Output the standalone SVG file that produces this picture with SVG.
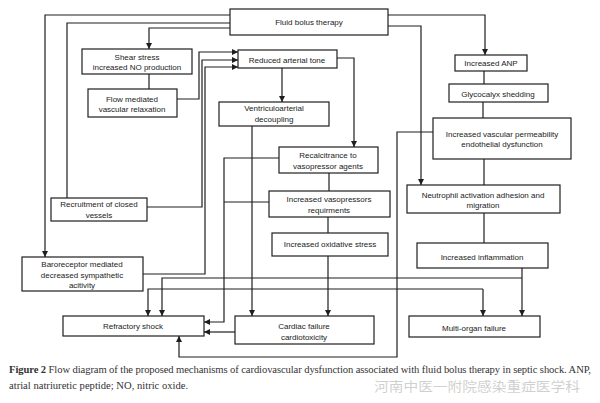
<svg xmlns="http://www.w3.org/2000/svg" width="600" height="403" viewBox="0 0 600 403">
<style>
.box{fill:#fff;stroke:#1e1e1e;stroke-width:1.2}
.t{font-family:"Liberation Sans",Arial,sans-serif;font-size:8px;fill:#222;text-anchor:middle}
.c{fill:none;stroke:#1e1e1e;stroke-width:1.2}
.a{marker-end:url(#ah)}
.cap{font-family:"Liberation Serif","Times New Roman",serif;font-size:10.6px;fill:#333}
.wm{font-family:"Noto Sans CJK SC",sans-serif;font-size:13px;fill:#bbb;fill-opacity:0.7}
</style>
<defs>
<marker id="ah" markerUnits="userSpaceOnUse" markerWidth="6" markerHeight="6" refX="6" refY="3" orient="auto">
<path d="M0,0 L6,3 L0,6 z" fill="#1e1e1e"/>
</marker>
</defs>
<rect width="600" height="403" fill="#fff"/>
<g id="connectors">
<path class="c a" d="M230,15 H45 V257"/>
<path class="c" d="M230,23 H67 V198"/>
<path class="c a" d="M230,28 H149 V49"/>
<path class="c a" d="M388,15 H485 V55"/>
<path class="c a" d="M388,26 H421 V185"/>
<path class="c" d="M149,74 V89"/>
<path class="c a" d="M177,99 H199 V52 H238"/>
<path class="c a" d="M147,207 H202 V60 H238"/>
<path class="c a" d="M143,274 H205 V67 H238"/>
<path class="c a" d="M282,68 V102"/>
<path class="c a" d="M337,58 H354 V147"/>
<path class="c a" d="M252,126 V316"/>
<path class="c a" d="M279,158 H224 V322 H204"/>
<path class="c" d="M269,202 H224"/>
<path class="c" d="M329,173 V191"/>
<path class="c" d="M328,217 V233"/>
<path class="c a" d="M328,256 V316"/>
<path class="c a" d="M235,332 H204"/>
<path class="c" d="M484,71 V84"/>
<path class="c" d="M483,102 V118"/>
<path class="c" d="M484,159 V185"/>
<path class="c" d="M484,213 V243"/>
<path class="c a" d="M522,268 V316"/>
<path class="c a" d="M522,278 H162 V316"/>
<path class="c a" d="M483,289 H148 V316"/>
<path class="c a" d="M483,289 V316"/>
<path class="c a" d="M433,132 H397 V357 H179 V336"/>
</g>
<g id="n_fluid"><rect class="box" x="230" y="9" width="158" height="26"/><text class="t" x="309" y="25">Fluid bolus therapy</text></g>
<g id="n_shear"><rect class="box" x="82" y="49" width="110" height="25"/><text class="t" x="137" y="60">Shear stress</text><text class="t" x="137" y="70">increased NO production</text></g>
<g id="n_flow"><rect class="box" x="88" y="89" width="89" height="28"/><text class="t" x="132" y="102">Flow mediated</text><text class="t" x="132" y="112">vascular relaxation</text></g>
<g id="n_tone"><rect class="box" x="238" y="50" width="99" height="18"/><text class="t" x="287" y="63">Reduced arterial tone</text></g>
<g id="n_decoupling"><rect class="box" x="219" y="102" width="110" height="24"/><text class="t" x="274" y="111">Ventriculoarterial</text><text class="t" x="274" y="122">decoupling</text></g>
<g id="n_recalc"><rect class="box" x="279" y="147" width="99" height="26"/><text class="t" x="328" y="158">Recalcitrance to</text><text class="t" x="328" y="169">vasopressor agents</text></g>
<g id="n_vasopressors"><rect class="box" x="269" y="191" width="121" height="26"/><text class="t" x="329" y="202">Increased vasopressors</text><text class="t" x="329" y="213">requirments</text></g>
<g id="n_oxidative"><rect class="box" x="272" y="233" width="116" height="23"/><text class="t" x="330" y="247">Increased oxidative stress</text></g>
<g id="n_anp"><rect class="box" x="455" y="55" width="72" height="16"/><text class="t" x="491" y="66">Increased ANP</text></g>
<g id="n_glyco"><rect class="box" x="449" y="84" width="99" height="18"/><text class="t" x="498" y="97">Glycocalyx shedding</text></g>
<g id="n_perm"><rect class="box" x="433" y="118" width="138" height="41"/><text class="t" x="502" y="137">Increased vascular permeability</text><text class="t" x="502" y="147">endothelial dysfunction</text></g>
<g id="n_neutrophil"><rect class="box" x="407" y="185" width="153" height="28"/><text class="t" x="483" y="198">Neutrophil activation adhesion and</text><text class="t" x="483" y="208">migration</text></g>
<g id="n_inflammation"><rect class="box" x="417" y="243" width="131" height="25"/><text class="t" x="482" y="260">Increased inflammation</text></g>
<g id="n_recruitment"><rect class="box" x="51" y="198" width="96" height="23"/><text class="t" x="99" y="207">Recruitment of closed</text><text class="t" x="99" y="218">vessels</text></g>
<g id="n_baro"><rect class="box" x="22" y="257" width="121" height="34"/><text class="t" x="82" y="267">Baroreceptor mediated</text><text class="t" x="82" y="278">decreased sympathetic</text><text class="t" x="82" y="288">acitivity</text></g>
<g id="n_refractory"><rect class="box" x="63" y="316" width="141" height="20"/><text class="t" x="133" y="329">Refractory shock</text></g>
<g id="n_cardiac"><rect class="box" x="235" y="316" width="139" height="28"/><text class="t" x="304" y="329">Cardiac failure</text><text class="t" x="304" y="340">cardiotoxicity</text></g>
<g id="n_multi"><rect class="box" x="409" y="316" width="131" height="21"/><text class="t" x="474" y="331">Multi-organ failure</text></g>
<text class="cap" x="9" y="373" textLength="582" lengthAdjust="spacing"><tspan font-weight="bold">Figure 2</tspan> Flow diagram of the proposed mechanisms of cardiovascular dysfunction associated with fluid bolus therapy in septic shock. ANP,</text>
<text class="cap" x="9" y="389">atrial natriuretic peptide; NO, nitric oxide.</text>
<text class="wm" x="374" y="391" textLength="206" lengthAdjust="spacingAndGlyphs">河南中医一附院感染重症医学科</text>
</svg>
